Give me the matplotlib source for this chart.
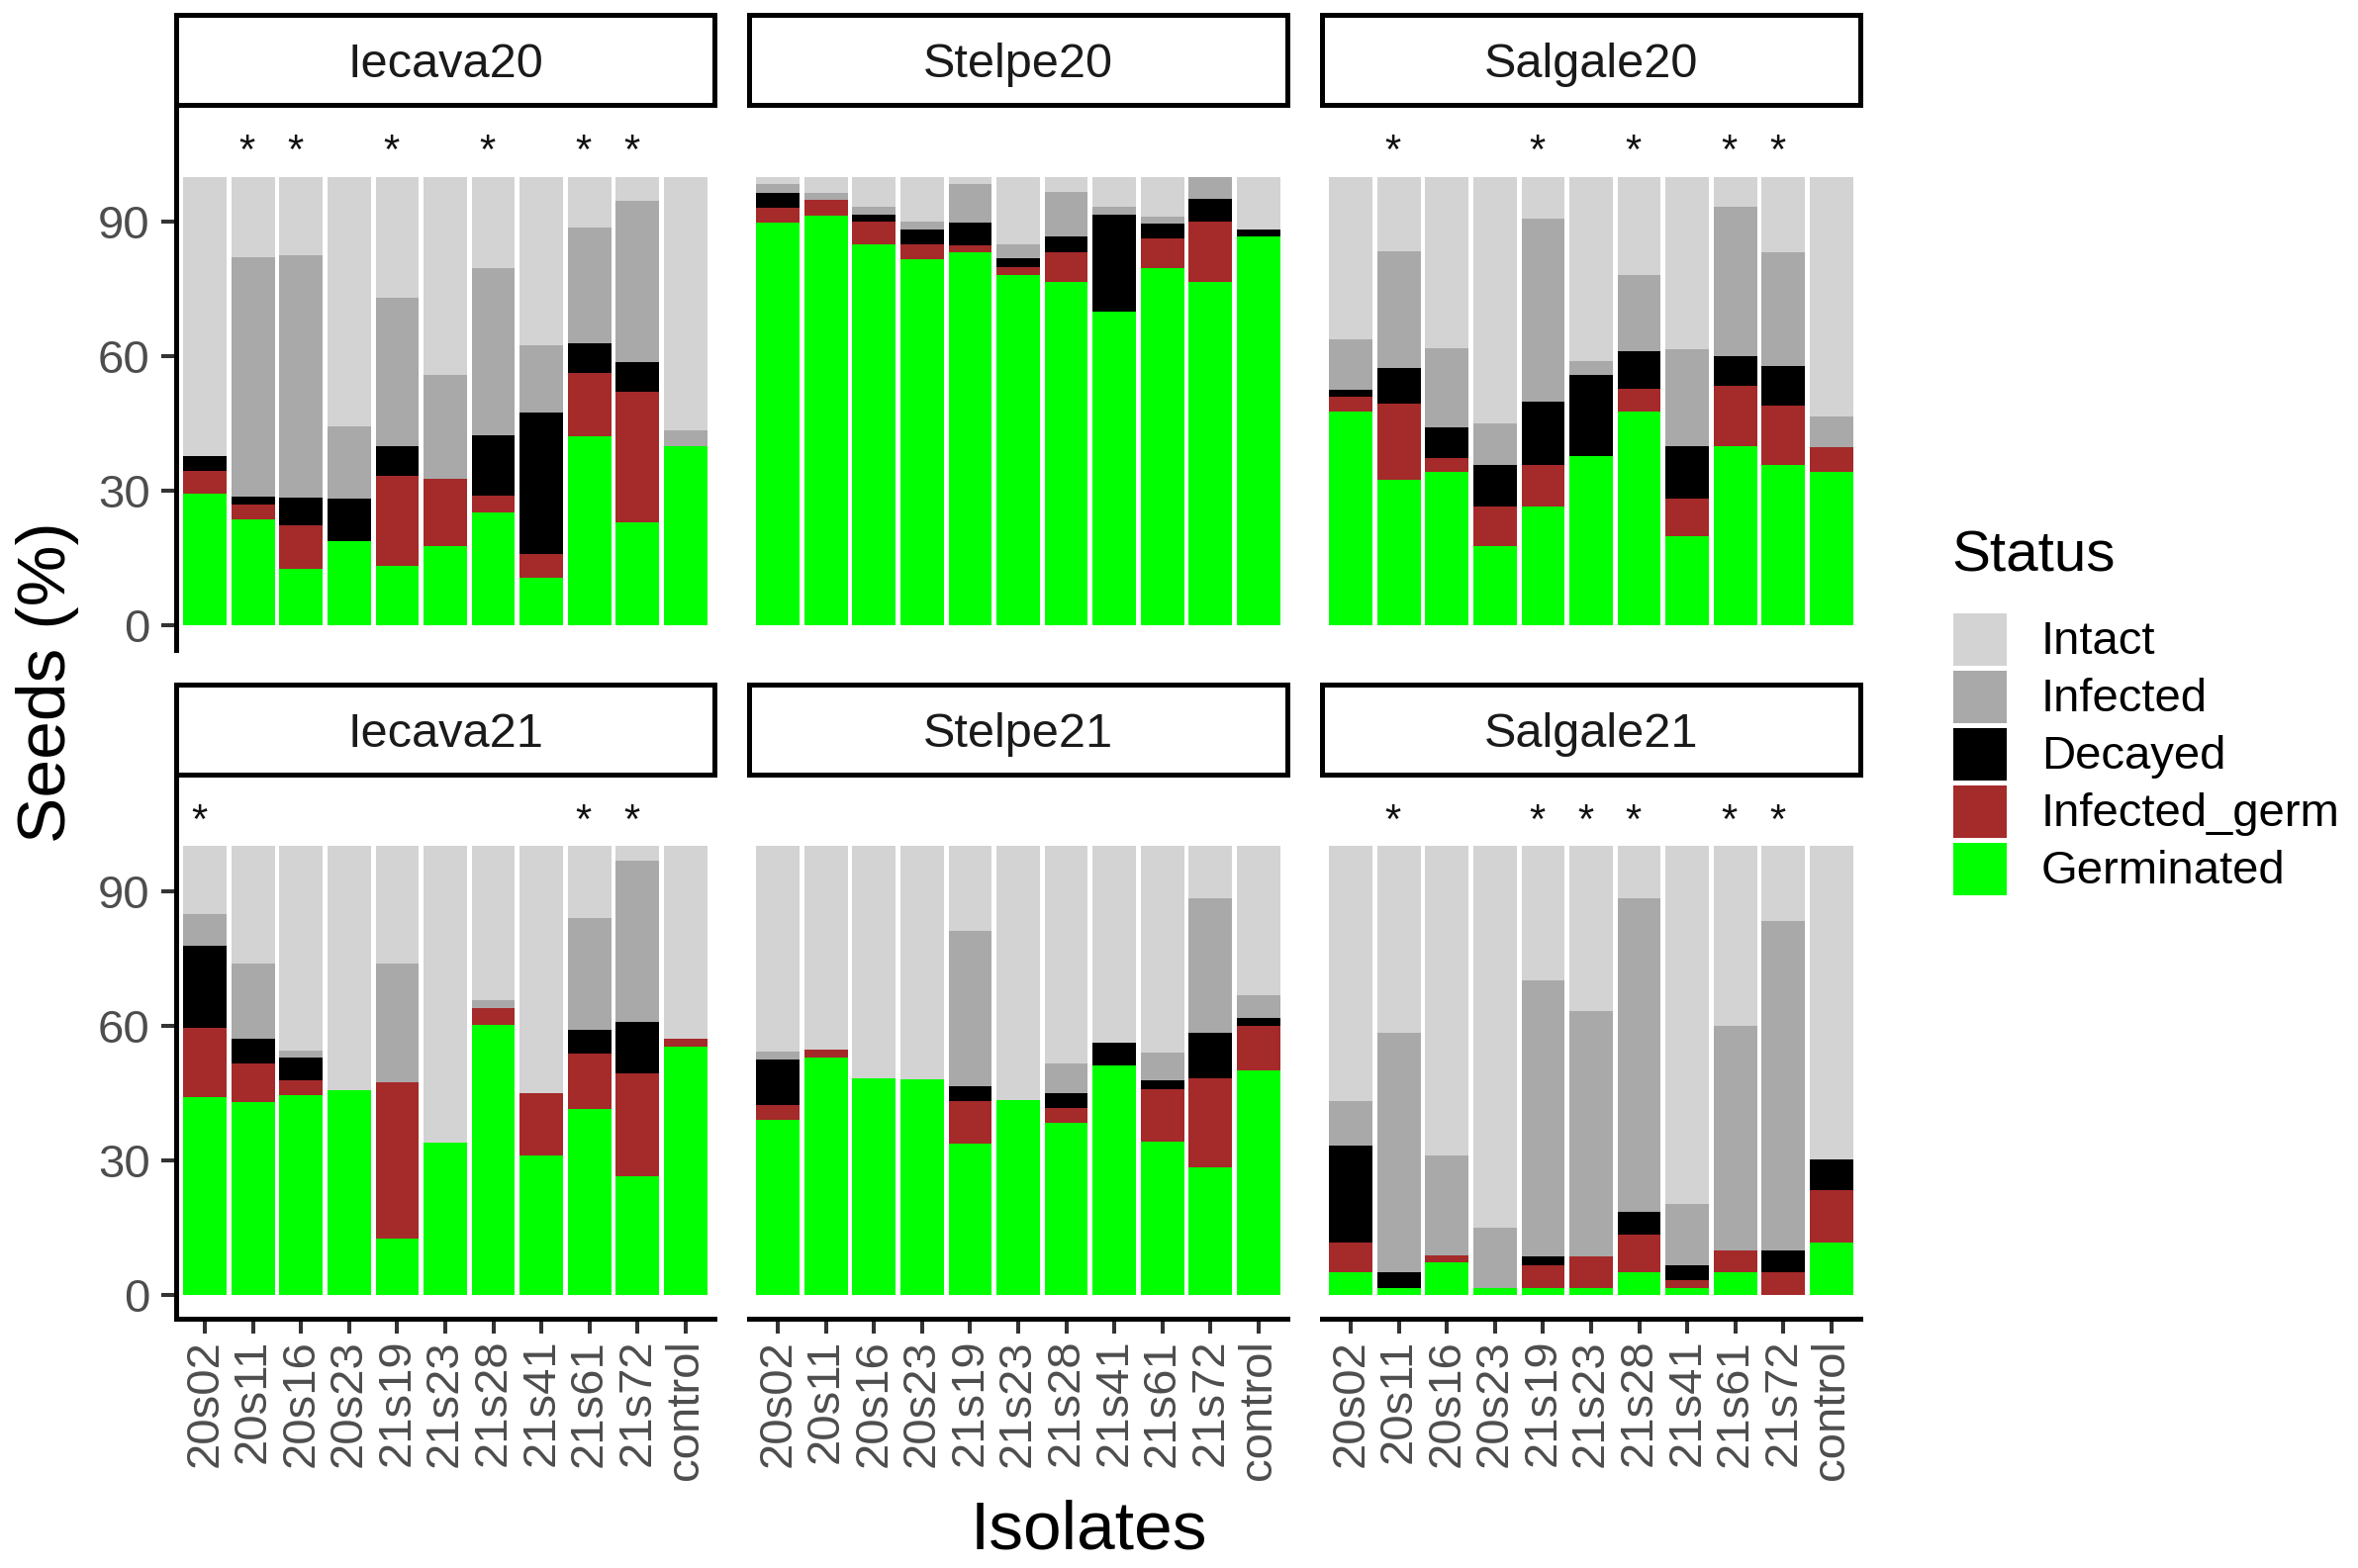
import numpy as np
import matplotlib
matplotlib.use("Agg")
import matplotlib.pyplot as plt
from matplotlib.patches import Rectangle

plt.rcParams['font.family'] = ['Liberation Sans', 'DejaVu Sans']

# ---- data (percent of seeds per status) ----
isolates = ["20s02", "20s11", "20s16", "20s23", "21s19", "21s23",
            "21s28", "21s41", "21s61", "21s72", "control"]
panels = ["Iecava20", "Stelpe20", "Salgale20", "Iecava21", "Stelpe21", "Salgale21"]

# one row per panel, in the order of `panels`
germinated = [
    [29.5, 23.6, 12.6, 18.9, 13.3, 17.8, 25.3, 10.7, 42.1, 23.0, 40.0],
    [89.8, 91.4, 84.9, 81.7, 83.1, 78.1, 76.6, 70.0, 79.6, 76.6, 86.6],
    [47.7, 32.4, 34.2, 17.8, 26.6, 37.7, 47.7, 20.0, 40.0, 35.7, 34.2],
    [44.1, 42.9, 44.4, 45.5, 12.5, 33.8, 60.2, 31.1, 41.3, 26.4, 55.2],
    [39.0, 52.8, 48.3, 48.1, 33.6, 43.3, 38.3, 51.2, 34.0, 28.3, 50.0],
    [4.9, 1.4, 7.1, 1.4, 1.4, 1.4, 4.9, 1.4, 4.9, 0.0, 11.6],
]
infected_germ = [
    [5.0, 3.3, 9.7, 0.0, 20.0, 14.9, 3.6, 5.3, 14.3, 29.2, 0.0],
    [3.2, 3.5, 5.0, 3.2, 1.7, 1.8, 6.5, 0.0, 6.7, 13.5, 0.0],
    [3.2, 17.0, 3.2, 8.8, 9.1, 0.0, 5.1, 8.3, 13.4, 13.4, 5.5],
    [15.3, 8.7, 3.4, 0.0, 34.8, 0.0, 3.7, 13.8, 12.4, 22.9, 1.8],
    [3.3, 1.8, 0.0, 0.0, 9.5, 0.0, 3.4, 0.0, 11.9, 20.0, 10.0],
    [6.7, 0.0, 1.6, 0.0, 5.2, 7.0, 8.4, 1.9, 5.0, 4.9, 11.7],
]
decayed = [
    [3.3, 1.9, 6.3, 9.4, 6.7, 0.0, 13.5, 31.4, 6.5, 6.5, 0.0],
    [3.5, 0.0, 1.7, 3.4, 5.0, 1.9, 3.5, 21.6, 3.3, 5.0, 1.7],
    [1.6, 8.1, 6.7, 9.1, 14.3, 18.2, 8.3, 11.7, 6.7, 8.7, 0.0],
    [18.5, 5.4, 5.1, 0.0, 0.0, 0.0, 0.0, 0.0, 5.3, 11.5, 0.0],
    [10.2, 0.0, 0.0, 0.0, 3.4, 0.0, 3.3, 4.9, 1.8, 10.1, 1.7],
    [21.6, 3.6, 0.0, 0.0, 1.8, 0.0, 5.1, 3.3, 0.0, 5.0, 6.9],
]
infected = [
    [0.0, 53.2, 53.9, 16.1, 33.1, 23.2, 37.2, 15.1, 25.7, 36.0, 3.5],
    [1.8, 1.6, 1.7, 1.8, 8.5, 3.1, 10.0, 1.7, 1.6, 4.9, 0.0],
    [11.3, 26.0, 17.8, 9.3, 40.7, 3.1, 16.9, 21.5, 33.2, 25.3, 6.9],
    [6.9, 16.8, 1.6, 0.0, 26.5, 0.0, 1.8, 0.0, 25.0, 36.0, 0.0],
    [1.7, 0.0, 0.0, 0.0, 34.6, 0.0, 6.6, 0.0, 6.2, 30.0, 5.0],
    [9.9, 53.3, 22.4, 13.5, 61.7, 54.8, 69.9, 13.5, 50.1, 73.4, 0.0],
]
intact = [
    [62.2, 18.0, 17.5, 55.6, 26.9, 44.1, 20.4, 37.5, 11.4, 5.3, 56.5],
    [1.7, 3.5, 6.7, 9.9, 1.7, 15.1, 3.4, 6.7, 8.8, 0.0, 11.7],
    [36.2, 16.5, 38.1, 55.0, 9.3, 41.0, 22.0, 38.5, 6.7, 16.9, 53.4],
    [15.2, 26.2, 45.5, 54.5, 26.2, 66.2, 34.3, 55.1, 16.0, 3.2, 43.0],
    [45.8, 45.4, 51.7, 51.9, 18.9, 56.7, 48.4, 43.9, 46.1, 11.6, 33.3],
    [56.9, 41.7, 68.9, 85.1, 29.9, 36.8, 11.7, 79.9, 40.0, 16.7, 69.8],
]
# isolates marked with an asterisk (significant), per panel
stars = [
    ["20s11", "20s16", "21s19", "21s28", "21s61", "21s72"],
    [],
    ["20s11", "21s19", "21s28", "21s61", "21s72"],
    ["20s02", "21s61", "21s72"],
    [],
    ["20s11", "21s19", "21s23", "21s28", "21s61", "21s72"],
]

statuses = ["Germinated", "Infected_germ", "Decayed", "Infected", "Intact"]
series = [germinated, infected_germ, decayed, infected, intact]
colors = {"Intact": "#D3D3D3", "Infected": "#A9A9A9", "Decayed": "#000000",
          "Infected_germ": "#A52A2A", "Germinated": "#00FF00"}

# ---- layout (pixels) ----
W, H = 2383, 1585
fig = plt.figure(figsize=(W / 100, H / 100), dpi=100)

col_x = [178, 757, 1336]
pw = 544
rows = [(15, 106, 657), (692, 783, 1333)]  # strip top, panel top, panel bottom

def fx(px):
    return px / W

def fy(py):
    return 1 - py / H

axis_lw = 3.6
xpos = np.arange(1, len(isolates) + 1)

for i, name in enumerate(panels):
    r, c = divmod(i, 3)
    s_top, p_top, p_bot = rows[r]
    x0 = col_x[c]
    ax = fig.add_axes([fx(x0), fy(p_bot), pw / W, (p_bot - p_top) / H])
    sax = fig.add_axes([fx(x0), fy(p_top), pw / W, (p_top - s_top) / H])

    bottom = np.zeros(len(isolates))
    for status, values in zip(statuses, series):
        v = np.array(values[i])
        ax.bar(xpos, v, width=0.9, bottom=bottom, color=colors[status], linewidth=0)
        bottom += v

    for iso in stars[i]:
        k = isolates.index(iso)
        ax.text(xpos[k] - 0.12, 103.0, "*", ha="center", va="baseline",
                fontsize=30, color="#111111")

    ax.set_xlim(0.4, 11.6)
    ax.set_ylim(-5.4, 116)
    for sp in ["top", "right"]:
        ax.spines[sp].set_visible(False)
    ax.spines["left"].set_visible(c == 0)
    ax.spines["bottom"].set_visible(r == 1)
    for sp in ["left", "bottom"]:
        ax.spines[sp].set_linewidth(axis_lw)
        ax.spines[sp].set_capstyle("projecting")

    ax.set_yticks([0, 30, 60, 90])
    ax.set_xticks(xpos)
    ax.tick_params(axis="both", length=11, width=2.9, color="#333333",
                   labelsize=34, labelcolor="#4D4D4D")
    ax.tick_params(axis="y", pad=8, left=(c == 0), labelleft=(c == 0))
    ax.tick_params(axis="x", pad=4, bottom=(r == 1), labelbottom=(r == 1))
    if r == 1:
        ax.set_xticklabels(isolates, rotation=90)

    # strip
    sax.set_xticks([])
    sax.set_yticks([])
    for sp in sax.spines.values():
        sp.set_linewidth(axis_lw)
        sp.set_color("black")
    sax.text(0.5, 0.44, name, transform=sax.transAxes, ha="center", va="center",
             fontsize=35, color="#1A1A1A")

# ---- overlay: axis titles and legend ----
ov = fig.add_axes([0, 0, 1, 1])
ov.set_xlim(0, W)
ov.set_ylim(H, 0)
ov.axis("off")

ov.text(48, 690, "Seeds (%)", rotation=90, ha="center", va="center", fontsize=50)
ov.text(1100, 1548, "Isolates", ha="center", va="center", fontsize=50)

ov.text(1972, 563, "Status", ha="left", va="center", fontsize=42)
legend_order = ["Intact", "Infected", "Decayed", "Infected_germ", "Germinated"]
for j, status in enumerate(legend_order):
    y0 = 620 + j * 58
    ov.add_patch(Rectangle((1974, y0), 54, 53, facecolor=colors[status], edgecolor="none"))
    ov.text(2063, y0 + 29, status, ha="left", va="center", fontsize=34)

fig.savefig("out.png", dpi=100)
